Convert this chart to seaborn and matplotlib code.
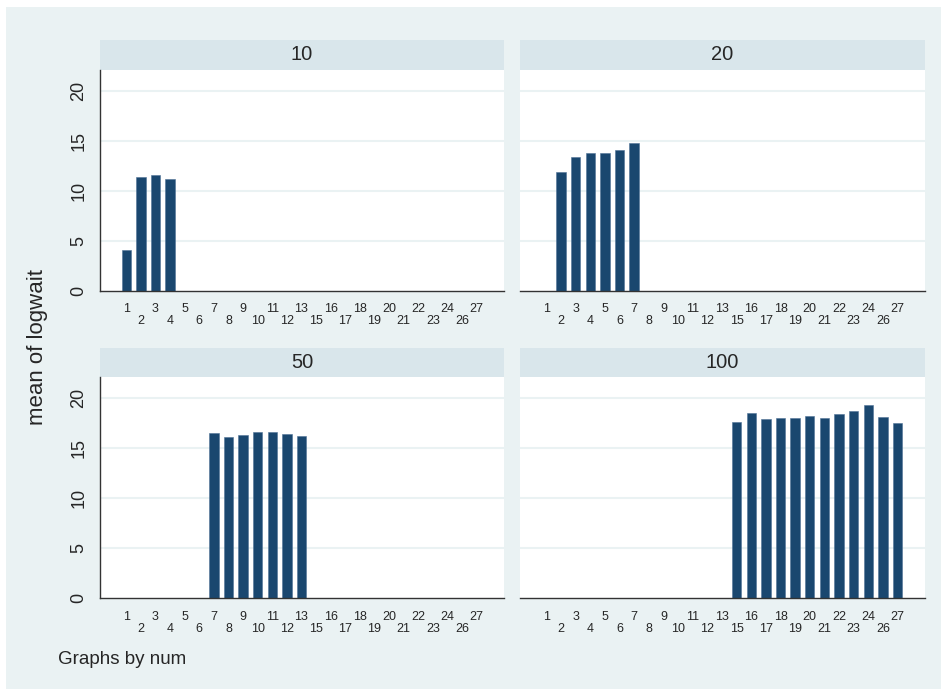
import numpy as np
import pandas as pd
import seaborn as sns
import matplotlib.pyplot as plt
from matplotlib.patches import Rectangle

# x categories (14 and 25 are absent)
cats = [1, 2, 3, 4, 5, 6, 7, 8, 9, 10, 11, 12, 13, 15, 16, 17, 18, 19, 20, 21, 22, 23, 24, 26, 27]
panels = [10, 20, 50, 100]

cats_10 = [1, 2, 3, 4]
vals_10 = [4.1, 11.37, 11.57, 11.13]
cats_20 = [2, 3, 4, 5, 6, 7]
vals_20 = [11.83, 13.33, 13.8, 13.73, 14.07, 14.77]
cats_50 = [7, 8, 9, 10, 11, 12, 13]
vals_50 = [16.5, 16.07, 16.23, 16.53, 16.6, 16.4, 16.2]
cats_100 = [15, 16, 17, 18, 19, 20, 21, 22, 23, 24, 26, 27]
vals_100 = [17.53, 18.43, 17.83, 17.97, 17.93, 18.13, 17.93, 18.4, 18.67, 19.3, 18.03, 17.47]

yticks = [0, 5, 10, 15, 20]

rows = []
for num, cs, vs in [(10, cats_10, vals_10), (20, cats_20, vals_20),
                    (50, cats_50, vals_50), (100, cats_100, vals_100)]:
    for c, v in zip(cs, vs):
        rows.append({"num": num, "cat": str(c), "logwait": v})
df = pd.DataFrame(rows)

bg = "#EAF2F3"
strip = "#D9E6EB"
bar_col = "#1A476F"

sns.set_style("white")
plt.rcParams['font.family'] = ['Liberation Sans', 'DejaVu Sans']

W, H = 945, 693
fig = plt.figure(figsize=(W / 100, H / 100), dpi=100, facecolor="white")
fig.patches.append(Rectangle((6 / W, 1 - 689 / H), 935 / W, 682 / H,
                             transform=fig.transFigure, facecolor=bg,
                             edgecolor="none", zorder=-10))

def px(x0, y0, x1, y1):
    return [x0 / W, 1 - y1 / H, (x1 - x0) / W, (y1 - y0) / H]

# (left, right, strip top, axes top, baseline)
boxes = [(100, 504, 40, 70, 291), (520, 925, 40, 70, 291),
         (100, 504, 348, 377, 598), (520, 925, 348, 377, 598)]

labels = [str(c) if i % 2 == 0 else "\n" + str(c) for i, c in enumerate(cats)]

for k, (num, (x0, x1, s0, a0, b0)) in enumerate(zip(panels, boxes)):
    sax = fig.add_axes(px(x0, s0, x1, a0))
    sax.set_facecolor(strip)
    sax.set_xticks([]); sax.set_yticks([])
    for sp in sax.spines.values():
        sp.set_visible(False)
    sax.text(0.5, 0.5, str(num), ha="center", va="center", fontsize=14.5,
             transform=sax.transAxes)

    ax = fig.add_axes(px(x0, a0, x1, b0))
    ax.set_facecolor("white")
    sub = df[df["num"] == num]
    sns.barplot(data=sub, x="cat", y="logwait", order=[str(c) for c in cats],
                color=bar_col, saturation=1, width=0.64, ax=ax,
                edgecolor="#4f7297", linewidth=0.4, zorder=3)
    ax.set_xlim(-1.8, len(cats) - 1 + 1.87)
    ax.set_ylim(0, 22.05)
    ax.set_yticks(yticks)
    ax.set_xticks(range(len(cats)))
    ax.set_xticklabels(labels, fontsize=9, linespacing=1.0)
    ax.tick_params(axis="x", length=6, width=0.9, color="#333333", pad=3)
    for t in yticks[1:]:
        ax.axhline(t, color=bg, lw=1.5, zorder=1)
    ax.set_xlabel("")
    ax.set_ylabel("")
    ax.spines["top"].set_visible(False)
    ax.spines["right"].set_visible(False)
    for s in ["left", "bottom"]:
        ax.spines[s].set_color("#333333")
        ax.spines[s].set_linewidth(1.0)
    ax.spines["bottom"].set_zorder(5)
    if k % 2 == 0:
        ax.set_yticklabels([str(t) for t in yticks], rotation=90, va="center", fontsize=13)
        ax.tick_params(axis="y", length=5, width=0.9, color="#333333", pad=4)
    else:
        ax.spines["left"].set_visible(False)
        ax.tick_params(axis="y", left=False, labelleft=False)

fig.text(38 / W, 1 - 347 / H, "mean of logwait", rotation=90, ha="center",
         va="center", fontsize=16)
fig.text(58 / W, 1 - 660 / H, "Graphs by num", ha="left", va="center", fontsize=13.5)

fig.savefig("out.png", dpi=100, facecolor=fig.get_facecolor())
